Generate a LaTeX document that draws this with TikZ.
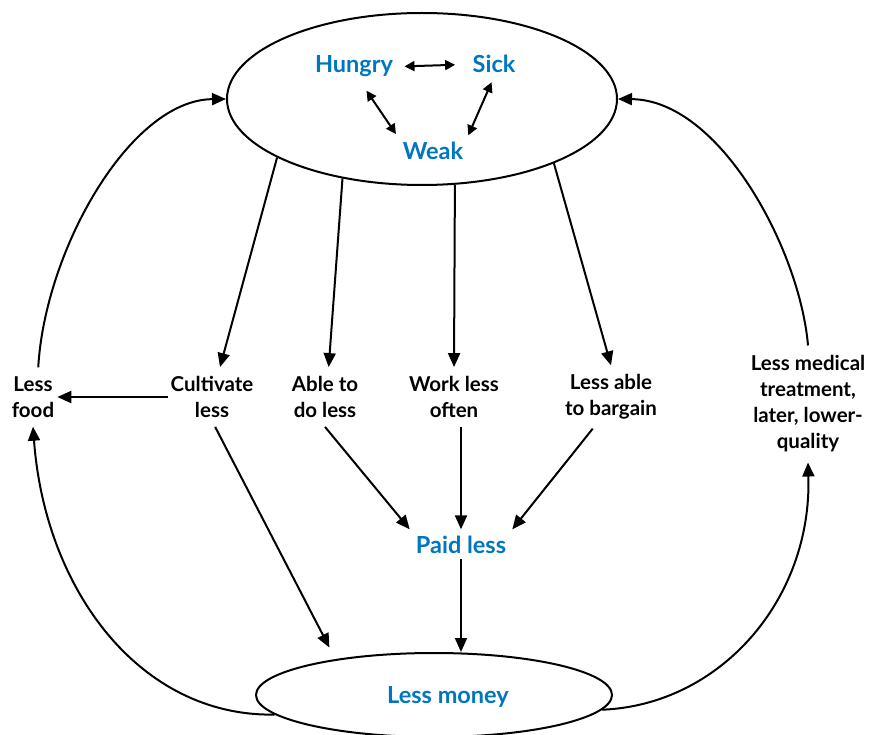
\documentclass[tikz,border=0pt]{standalone}
\usepackage{fontspec}
\setmainfont{Lato}
\usetikzlibrary{shapes.geometric,arrows.meta}
\definecolor{hblue}{RGB}{0,118,192}

\begin{document}
\begin{tikzpicture}[x=1pt,y=-1pt,
    lbl/.style={font=\fontsize{20.5}{26}\selectfont\bfseries,align=center,inner xsep=3pt,inner ysep=9pt},
    blu/.style={font=\fontsize{23.5}{28}\selectfont\bfseries,text=hblue},
    arr/.style={line width=2pt,-{Triangle[length=14pt,width=12pt]}},
    dbl/.style={line width=2pt,{Triangle[length=10pt,width=10pt]}-{Triangle[length=10pt,width=10pt]}},
    oval/.style={ellipse,draw,line width=2pt,inner sep=0pt}]
    \useasboundingbox (0,0) rectangle (871,735);

    % ellipses
    \node[oval,minimum width=390,minimum height=172] (state) at (422,99) {};
    \node[oval,minimum width=356,minimum height=84] (money) at (434,695) {};

    % blue texts
    \node[blu,anchor=base] (hungry) at (354,73) {Hungry};
    \node[blu,anchor=base] (sick) at (494,73) {Sick};
    \node[blu,anchor=base] (weak) at (433,160) {Weak};
    \node[blu,anchor=base,inner sep=6pt] (paid) at (461,553) {Paid less};
    \node[blu,anchor=base] (mtext) at (448,703) {Less money};

    % middle row
    \node[lbl] (food) at (33,397) {Less\\food};
    \node[lbl] (cult) at (212,397) {Cultivate\\less};
    \node[lbl] (able) at (325,397) {Able to\\do less};
    \node[lbl] (work) at (454,397) {Work less\\often};
    \node[lbl] (barg) at (611,397) {Less able\\to bargain};
    \node[lbl,inner ysep=10pt] (med) at (808,404) {Less medical\\treatment,\\later, lower-\\quality};

    % inside the top ellipse
    \draw[dbl,shorten <=8pt,shorten >=14pt] (hungry.east) -- (sick.west);
    \draw[dbl,shorten <=12pt,shorten >=6pt] (hungry.-68) -- (weak.north west);
    \draw[dbl,shorten <=6pt,shorten >=4pt] (sick.south) -- (weak.north east);

    % from the top ellipse
    \draw[arr] (state.202) -- (cult.75);
    \draw[arr] (state.225) -- (able.83);
    \draw[arr] (state.291) -- (work.north);
    \draw[arr] (state.334) -- (barg.north);

    \draw[arr] (cult.west) -- (food.east);
    \draw[arr,shorten >=13pt] (cult.-84) -- (money.160);
    \draw[arr] (able.south) -- (paid.north west);
    \draw[arr] (work.south -| paid.north) -- (paid.north);
    \draw[arr] (barg.-120) -- (paid.north east);
    \draw[arr] (paid.south) -- (paid.south |- money.north);

    % loops
    \draw[arr] (food.80) .. controls (45,250) and (130,100) .. (state.west);
    \draw[arr] (money.187) .. controls (140,717) and (45,590) .. (food.south);
    \draw[arr] (money.355) .. controls (720,705) and (812,600) .. (med.south);
    \draw[arr] (med.north) .. controls (800,250) and (720,100) .. (state.east);
\end{tikzpicture}
\end{document}
